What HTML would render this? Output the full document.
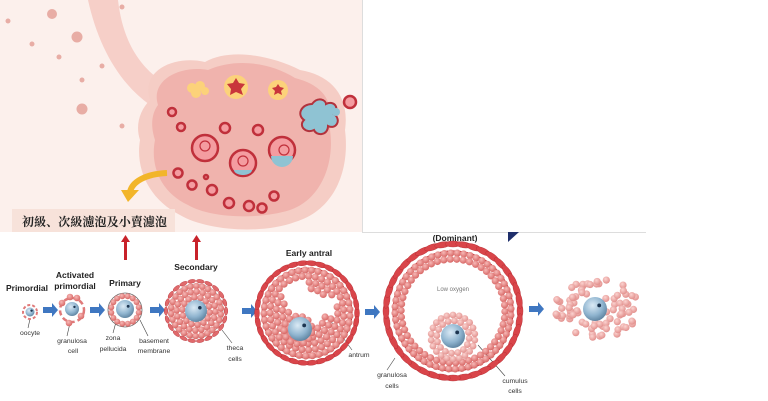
<!DOCTYPE html>
<html><head><meta charset="utf-8">
<style>
html,body{margin:0;padding:0;background:#fff;}
svg{display:block;}
text{font-family:"Liberation Sans",sans-serif;}
</style></head>
<body>
<svg id="s" width="768" height="401" viewBox="0 0 768 401" xmlns="http://www.w3.org/2000/svg">
<defs>
<radialGradient id="oo" cx="0.4" cy="0.35" r="0.7"><stop offset="0" stop-color="#dbeaf5"/><stop offset="0.6" stop-color="#8fb4cf"/><stop offset="1" stop-color="#5a7f9c"/></radialGradient>
<radialGradient id="gc" cx="0.4" cy="0.35" r="0.7"><stop offset="0" stop-color="#f7b9b7"/><stop offset="1" stop-color="#d5615f"/></radialGradient>
<radialGradient id="gl" cx="0.4" cy="0.35" r="0.7"><stop offset="0" stop-color="#fbd3d0"/><stop offset="1" stop-color="#e08b88"/></radialGradient>
</defs>
<rect x="0" y="0" width="362" height="232" fill="#fcf0ec"/>
<line x1="362.5" y1="0" x2="362.5" y2="232" stroke="#ddd" stroke-width="1"/>
<line x1="362" y1="232.5" x2="646" y2="232.5" stroke="#ddd" stroke-width="1"/>
<g fill="#e8ada5">
<circle cx="52" cy="14" r="5"/><circle cx="8" cy="21" r="2.5"/><circle cx="77" cy="37" r="5.5"/><circle cx="32" cy="44" r="2.5"/><circle cx="59" cy="57" r="2.5"/><circle cx="82" cy="80" r="2.5"/><circle cx="102" cy="66" r="2.5"/><circle cx="82" cy="109" r="5.5"/><circle cx="122" cy="126" r="2.5"/><circle cx="122" cy="7" r="2.5"/><circle cx="152" cy="80" r="2.5"/>
</g>
<path d="M88,0 L118,0 C122,35 135,62 160,80 L150,105 C118,82 98,45 88,0 Z" fill="#f6cfc8"/>
<path d="M150,100 C140,70 175,55 205,62 C230,48 270,55 300,70 C330,75 350,95 345,130 C350,170 335,210 295,222 C260,235 205,230 180,215 C150,200 135,170 140,140 C135,125 140,110 150,100 Z" fill="#f5cdc5"/>
<path d="M158,105 C150,80 180,65 208,70 C235,58 270,62 295,78 C322,85 335,100 330,130 C335,165 320,200 290,210 C258,220 210,218 188,205 C160,192 150,165 155,140 C150,125 152,113 158,105 Z" fill="#f0b3ad"/>
<g fill="#fcd27a">
<circle cx="192" cy="88" r="5"/><circle cx="200" cy="86" r="5"/><circle cx="196" cy="93" r="5"/><circle cx="205" cy="91" r="4"/>
<circle cx="236" cy="87" r="12"/><circle cx="278" cy="90" r="10"/>
</g>
<polygon points="236,78 239,83 245,84 241,89 243,95 236,92 230,95 231,89 227,84 233,83" fill="#c9363b"/>
<polygon points="278,84 280,87 284,88 281,91 282,95 278,93 274,95 275,91 272,88 276,87" fill="#c9363b"/>
<g fill="#8fc3d3" stroke="#b2323c" stroke-width="2">
<path d="M312,104 C318,96 326,100 326,104 C334,100 340,108 334,114 C342,120 336,130 328,126 C328,136 316,136 314,130 C306,134 298,126 304,120 C296,114 302,104 312,104 Z"/>
</g>
<circle cx="336" cy="112" r="4" fill="#8fc3d3"/>
<g fill="#f49ca0" stroke="#c0303b" stroke-width="2.5">
<circle cx="350" cy="102" r="6"/>
<circle cx="205" cy="148" r="13"/><circle cx="243" cy="163" r="13"/><circle cx="282" cy="150" r="13"/>
<circle cx="172" cy="112" r="4"/><circle cx="181" cy="127" r="4"/><circle cx="225" cy="128" r="5"/><circle cx="258" cy="130" r="5"/>
<circle cx="178" cy="173" r="4.5"/><circle cx="192" cy="185" r="4.5"/><circle cx="212" cy="190" r="5"/><circle cx="229" cy="203" r="5"/><circle cx="249" cy="206" r="5"/><circle cx="262" cy="208" r="4.5"/><circle cx="274" cy="196" r="4.5"/><circle cx="206" cy="177" r="2"/>
</g>
<g fill="none" stroke="#c0303b" stroke-width="1.2">
<circle cx="205" cy="146" r="5"/><circle cx="243" cy="161" r="5"/><circle cx="284" cy="150" r="5"/>
</g>
<path d="M271,156 a11,11 0 0,0 22,0" fill="#8fc3d3"/>
<path d="M234,170 a9,5 0 0,0 18,0" fill="#8fc3d3"/>
<path d="M167,173 C145,174 132,182 130,192" stroke="#f2b52a" stroke-width="6" fill="none"/>
<polygon points="121,190 139,190 128,202" fill="#f2b52a"/>
<rect x="12" y="209" width="163" height="23" fill="#f7e2da"/>
<text x="22" y="226" font-size="12" font-weight="bold" style="font-family:'Noto Serif CJK SC','Liberation Serif',serif" fill="#222" textLength="145">初級、次級濾泡及小賣濾泡</text>
<g fill="#c8222a">
<rect x="124" y="240" width="3" height="20"/><polygon points="121,242 130,242 125.5,235"/>
<rect x="195" y="240" width="3" height="20"/><polygon points="192,242 201,242 196.5,235"/>
</g>
<polygon points="508,232 519,232 508,242" fill="#1f2f6b"/>
<g font-weight="bold" font-size="8.5" fill="#222" text-anchor="middle">
<text x="27" y="291">Primordial</text>
<text x="75" y="278">Activated</text><text x="75" y="289">primordial</text>
<text x="125" y="286">Primary</text>
<text x="196" y="270">Secondary</text>
<text x="309" y="256">Early antral</text>
<text x="455" y="241">(Dominant)</text>
</g>
<g font-size="6.8" fill="#333" text-anchor="middle">
<text x="30" y="335">oocyte</text>
<text x="72" y="343">granulosa</text><text x="73" y="353">cell</text>
<text x="113" y="340">zona</text><text x="113" y="351">pellucida</text>
<text x="154" y="343">basement</text><text x="154" y="353">membrane</text>
<text x="235" y="350">theca</text><text x="235" y="361">cells</text>
<text x="359" y="357">antrum</text>
<text x="392" y="377">granulosa</text><text x="392" y="388">cells</text>
<text x="515" y="383">cumulus</text><text x="515" y="393">cells</text>
<text x="453" y="291" fill="#777" font-size="6">Low oxygen</text>
</g>
<g stroke="#444" stroke-width="0.6">
<line x1="30" y1="319" x2="28" y2="328"/><line x1="70" y1="323" x2="67" y2="336"/>
<line x1="116" y1="322" x2="113" y2="333"/><line x1="140" y1="320" x2="148" y2="336"/>
<line x1="222" y1="330" x2="232" y2="343"/><line x1="330" y1="320" x2="352" y2="350"/>
<line x1="395" y1="358" x2="387" y2="370"/><line x1="478" y1="345" x2="505" y2="376"/>
</g>
<g fill="#3f77c1" id="ba"></g>
<g id="cells"></g>
</svg>
<script>
var NS="http://www.w3.org/2000/svg",cells=document.getElementById('cells'),ba=document.getElementById('ba');
function el(t,a,p){var e=document.createElementNS(NS,t);for(var k in a)e.setAttribute(k,a[k]);(p||cells).appendChild(e);return e;}
[[43,310],[90,310],[150,310],[242,311],[365,312],[529,309]].forEach(function(p){
 el('polygon',{points:(p[0])+','+(p[1]-3)+' '+(p[0]+9)+','+(p[1]-3)+' '+(p[0]+9)+','+(p[1]-7)+' '+(p[0]+15)+','+p[1]+' '+(p[0]+9)+','+(p[1]+7)+' '+(p[0]+9)+','+(p[1]+3)+' '+p[0]+','+(p[1]+3)},ba);});
var seed=7;function rnd(){seed=(seed*9301+49297)%233280;return seed/233280;}
function ring(cx,cy,r,n,w,h,fill){for(var i=0;i<n;i++){var a=i/n*Math.PI*2;var x=cx+r*Math.cos(a),y=cy+r*Math.sin(a);
 el('ellipse',{cx:x,cy:y,rx:w,ry:h,fill:fill||'#d9454a',stroke:'#b52a30','stroke-width':0.4,transform:'rotate('+(a*180/Math.PI+90)+' '+x+' '+y+')'});}}
function disk(cx,cy,r0,r1,cr,fill,skip){for(var r=r1;r>=r0;r-=cr*1.7){var n=Math.floor(2*Math.PI*r/(cr*1.8));var off=rnd();for(var i=0;i<n;i++){var a=(i+off)/n*Math.PI*2;var x=cx+r*Math.cos(a),y=cy+r*Math.sin(a);if(skip&&skip(x,y))continue;el('circle',{cx:x,cy:y,r:cr,fill:fill||'url(#gc)'});}}}
function oocyte(cx,cy,r){el('circle',{cx:cx,cy:cy,r:r,fill:'url(#oo)'});el('circle',{cx:cx+r*0.35,cy:cy-r*0.3,r:Math.max(1.2,r*0.16),fill:'#1d3550'});}
el('circle',{cx:30,cy:312,r:7,fill:'none',stroke:'#e07a7a','stroke-width':2,'stroke-dasharray':'3 2'});oocyte(30,312,4.5);
el('circle',{cx:72,cy:310,r:12,fill:'none',stroke:'#e07a7a','stroke-width':2.5,'stroke-dasharray':'5 3'});
[[70,297],[77,298],[62,303],[69,323],[81,316]].forEach(function(p){el('circle',{cx:p[0],cy:p[1],r:3.3,fill:'url(#gc)'});});
oocyte(72,309,7);
el('circle',{cx:125,cy:310,r:17,fill:'#fff',stroke:'#666','stroke-width':0.8});
disk(125,310,12,14,3,'url(#gc)');oocyte(125,309,9);
ring(196,311,30,22,4,1.8,'#e06a6c');
el('circle',{cx:196,cy:311,r:27,fill:'none',stroke:'#888','stroke-width':0.6});
disk(196,311,12,25,3.3);oocyte(196,311,11);
ring(307,313,50,34,6,2.5);
el('circle',{cx:307,cy:313,r:45,fill:'none',stroke:'#c0282e','stroke-width':1});
disk(307,313,14,43,3.6,'url(#gc)',function(x,y){var d1=Math.hypot(x-298,y-296),d2=Math.hypot(x-326,y-306);return (d1<15)||(d2<11);});
disk(298,330,0,14,3.5);oocyte(300,329,12);
ring(453,311,67,40,8,3);
el('circle',{cx:453,cy:311,r:60,fill:'none',stroke:'#c0282e','stroke-width':1.2});
disk(453,311,46,58,3.6);
disk(453,337,12,22,3.4,'url(#gl)');oocyte(453,336,12);
(function(){for(var i=0;i<95;i++){var a=rnd()*Math.PI*2,r=Math.sqrt(rnd());var x=597+Math.cos(a)*r*42,y=308+Math.sin(a)*r*30;if(Math.hypot(x-595,y-307)<12)continue;el('circle',{cx:x,cy:y,r:3.6,fill:'url(#gl)'});}oocyte(595,309,12);})();
</script>
</body></html>
